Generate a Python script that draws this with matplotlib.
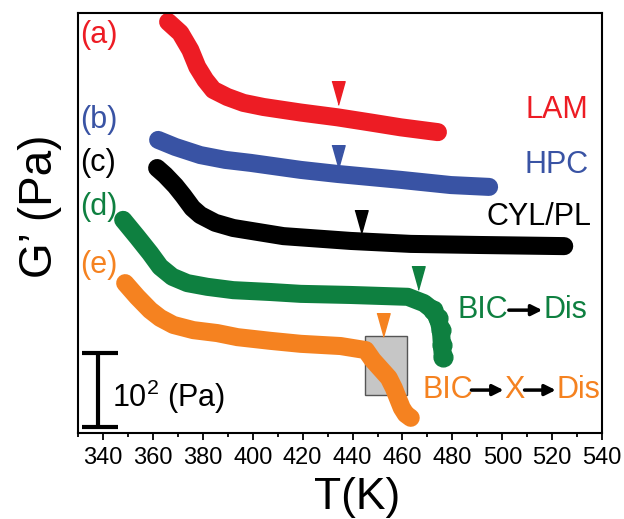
import matplotlib.pyplot as plt

plt.rcParams['font.family'] = ['Liberation Sans', 'DejaVu Sans']
plt.rcParams['mathtext.fontset'] = 'custom'
plt.rcParams['mathtext.rm'] = 'Liberation Sans'

# temperature (K) and log10 G' (arbitrary offset, decades)
T_a = [366.1, 371.0, 375.0, 377.8, 381.0, 384.2, 389.8, 396.3, 404.3, 419.2, 434.0, 447.3, 459.3, 474.2]
G_a = [11.11, 10.81, 10.35, 9.89, 9.54, 9.27, 9.08, 8.92, 8.81, 8.66, 8.53, 8.39, 8.26, 8.13]

T_b = [362.1, 369.0, 379.0, 389.0, 399.1, 419.2, 434.0, 459.3, 479.4, 494.7]
G_b = [7.92, 7.73, 7.51, 7.38, 7.30, 7.11, 7.00, 6.84, 6.70, 6.65]

T_c = [361.7, 364.9, 369.0, 372.2, 375.8, 379.0, 385.0, 392.2, 412.3, 439.2, 463.3, 491.4, 524.8]
G_c = [7.16, 6.97, 6.68, 6.41, 6.08, 5.89, 5.68, 5.54, 5.32, 5.19, 5.11, 5.08, 5.05]

T_d = [348.1, 353.7, 358.9, 362.9, 367.8, 373.8, 381.8, 392.2, 407.1, 419.2, 439.2, 462.1,
       468.6, 472.2, 474.2, 475.4, 475.8, 476.2]
G_d = [5.76, 5.30, 4.86, 4.49, 4.22, 4.05, 3.95, 3.86, 3.81, 3.76, 3.73, 3.68,
       3.51, 3.32, 3.11, 2.78, 2.38, 2.05]

T_e = [348.9, 353.7, 358.9, 362.9, 368.2, 376.2, 385.8, 393.9, 407.1, 419.2, 435.2, 445.3,
       448.1, 451.7, 454.5, 456.5, 458.1, 459.7, 461.3, 463.3]
G_e = [4.05, 3.68, 3.32, 3.11, 2.92, 2.78, 2.70, 2.59, 2.49, 2.41, 2.35, 2.24,
       1.97, 1.70, 1.49, 1.22, 0.95, 0.68, 0.51, 0.41]

# transition markers
tri_T = [434.0, 434.0, 443.3, 466.1, 452.1]
tri_G = [9.18, 7.46, 5.70, 4.18, 2.92]

colors = ['#ed1c24', '#3953a4', '#000000', '#0e8040', '#f58220']
letters = ['(a)', '(b)', '(c)', '(d)', '(e)']
letter_G = [10.76, 8.46, 7.30, 6.11, 4.54]

fig = plt.figure(figsize=(6.24, 5.19), dpi=100)
ax = fig.add_axes([0.125, 0.1657, 0.840, 0.8093])

curves = [(T_a, G_a), (T_b, G_b), (T_c, G_c), (T_d, G_d), (T_e, G_e)]

# grey box behind orange curve
ax.add_patch(plt.Rectangle((444.9, 1.03), 16.8, 1.59, facecolor='#c6c6c6',
                           edgecolor='#555555', lw=1, zorder=1))

for (t, g), c in zip(curves, colors):
    ax.plot(t, g, color=c, lw=13, solid_capstyle='round',
            solid_joinstyle='round', zorder=2)

# bumpy tail of the green curve (individual data points visible)
ax.plot(T_d[-5:], G_d[-5:], 'o', color=colors[3], ms=13.5, zorder=2)

tri = [(-0.56, 1), (0.56, 1), (0, -1)]
for t, g, c in zip(tri_T, tri_G, colors):
    ax.plot(t, g, marker=tri, ms=17, color=c, ls='none', zorder=3)

for lab, g, c in zip(letters, letter_G, colors):
    ax.text(331, g, lab, color=c, fontsize=22, ha='left', va='center')

ax.text(534.6, 8.73, 'LAM', color=colors[0], fontsize=22, ha='right', va='center')
ax.text(534.6, 7.24, 'HPC', color=colors[1], fontsize=22, ha='right', va='center')
ax.text(535.6, 5.84, 'CYL/PL', color=colors[2], fontsize=22, ha='right', va='center')

arrow = dict(arrowstyle='-|>', lw=2.5, color='k', mutation_scale=16, shrinkA=0, shrinkB=0)

ax.text(482.2, 3.32, 'BIC', color=colors[3], fontsize=22, ha='left', va='center')
ax.annotate('', xy=(516.0, 3.32), xytext=(502.6, 3.32), arrowprops=arrow)
ax.text(516.4, 3.32, 'Dis', color=colors[3], fontsize=22, ha='left', va='center')

ax.text(468.2, 1.16, 'BIC', color=colors[4], fontsize=22, ha='left', va='center')
ax.annotate('', xy=(500.5, 1.16), xytext=(487.6, 1.16), arrowprops=arrow)
ax.text(500.7, 1.16, 'X', color=colors[4], fontsize=22, ha='left', va='center')
ax.annotate('', xy=(521.4, 1.16), xytext=(508.9, 1.16), arrowprops=arrow)
ax.text(521.6, 1.16, 'Dis', color=colors[4], fontsize=22, ha='left', va='center')

# scale bar: two decades
ax.plot([338.0, 338.0], [0.16, 2.16], color='k', lw=3, solid_capstyle='butt')
ax.plot([331.6, 346.1], [2.16, 2.16], color='k', lw=3, solid_capstyle='butt')
ax.plot([331.6, 346.1], [0.16, 0.16], color='k', lw=3, solid_capstyle='butt')
ax.text(343.7, 0.97, '10$^2$ (Pa)', fontsize=22, ha='left', va='center')

ax.set_xlim(330, 540)
ax.set_ylim(0, 11.35)
ax.set_xticks(range(340, 541, 20))
ax.set_xticks(range(330, 541, 10), minor=True)
ax.set_yticks([])
ax.tick_params(axis='x', which='major', direction='out', length=5, width=1.3,
               labelsize=17, pad=5)
ax.tick_params(axis='x', which='minor', direction='out', length=3, width=1.3)
for s in ax.spines.values():
    s.set_linewidth(1.5)

ax.set_xlabel('T(K)', fontsize=32)
ax.xaxis.set_label_coords(0.532, -0.105)
ax.set_ylabel('G’ (Pa)', fontsize=33)
ax.yaxis.set_label_coords(-0.03, 0.54)

fig.savefig('out.png', dpi=100)
